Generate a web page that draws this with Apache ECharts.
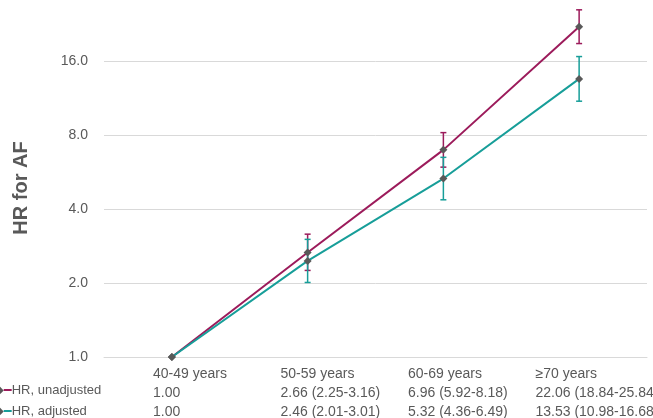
<!DOCTYPE html>
<html>
<head>
<meta charset="utf-8">
<script src="https://cdn.jsdelivr.net/npm/echarts@6/dist/echarts.min.js"></script>
<style>
  html, body { margin: 0; padding: 0; background: #ffffff; }
  #chart { width: 653px; height: 418px; }
</style>
</head>
<body>
<div id="chart"></div>
<script>
// ---- data ----
const categories = ['40-49 years', '50-59 years', '60-69 years', '\u226570 years'];
const hrUnadjusted = [1.00, 2.66, 6.96, 22.06];
const ciUnadjustedLow = [null, 2.25, 5.92, 18.84];
const ciUnadjustedHigh = [null, 3.16, 8.18, 25.84];
const hrAdjusted = [1.00, 2.46, 5.32, 13.53];
const ciAdjustedLow = [null, 2.01, 4.36, 10.98];
const ciAdjustedHigh = [null, 3.01, 6.49, 16.68];
const seriesNames = ['HR, unadjusted', 'HR, adjusted'];
const yAxisTitle = 'HR for AF';

// ---- styling ----
const FONT = "'Liberation Sans', Arial, sans-serif";
const TEXT = '#595959';
const MAROON = '#9c1b5b';
const TEAL = '#179e99';
const GRID = '#d9d9d9';
const MARKER = '#595959';

function cellText(hr, lo, hi) {
  return hr.map((v, i) => (lo[i] == null ? v.toFixed(2)
    : v.toFixed(2) + ' (' + lo[i].toFixed(2) + '-' + hi[i].toFixed(2) + ')'));
}
const rowUnadjusted = cellText(hrUnadjusted, ciUnadjustedLow, ciUnadjustedHigh);
const rowAdjusted = cellText(hrAdjusted, ciAdjustedLow, ciAdjustedHigh);

function errData(lo, hi) {
  const out = [];
  lo.forEach((l, i) => { if (l != null) out.push([i, l, hi[i]]); });
  return out;
}

function errRender(color) {
  return function (params, api) {
    const i = api.value(0);
    const p1 = api.coord([i, api.value(1)]);
    const p2 = api.coord([i, api.value(2)]);
    const w = 3;
    const st = { stroke: color, lineWidth: 1.5 };
    return {
      type: 'group',
      children: [
        { type: 'line', shape: { x1: p1[0], y1: p1[1], x2: p2[0], y2: p2[1] }, style: st },
        { type: 'line', shape: { x1: p1[0] - w, y1: p1[1], x2: p1[0] + w, y2: p1[1] }, style: st },
        { type: 'line', shape: { x1: p2[0] - w, y1: p2[1], x2: p2[0] + w, y2: p2[1] }, style: st }
      ]
    };
  };
}

const chart = echarts.init(document.getElementById('chart'), null, { renderer: 'canvas' });
chart.setOption({
  animation: false,
  backgroundColor: '#ffffff',
  textStyle: { fontFamily: FONT },
  grid: [
    { left: 104, right: 6, top: -13, bottom: 61, outerBoundsMode: 'none', containLabel: false },
    { left: 89.25, right: 53.75, top: 19, bottom: 61, outerBoundsMode: 'none', containLabel: false }
  ],
  legend: {
    data: seriesNames,
    orient: 'vertical',
    icon: 'none',
    left: -9,
    top: 383,
    height: 40,
    padding: 0,
    itemWidth: 0,
    itemHeight: 14,
    itemGap: 7,
    formatter: name => '{d|\u25C6}{b' + seriesNames.indexOf(name) + '|}' + name,
    textStyle: {
      color: TEXT, fontSize: 13, fontFamily: FONT, lineHeight: 14,
      rich: {
        d: { color: MARKER, fontSize: 10, fontFamily: "'DejaVu Sans'", verticalAlign: 'middle', lineHeight: 14 },
        b0: { width: 8, height: 2, backgroundColor: MAROON, verticalAlign: 'middle' },
        b1: { width: 8, height: 2, backgroundColor: TEAL, verticalAlign: 'middle' }
      }
    },
    selectedMode: false
  },
  xAxis: [
    {
      type: 'category',
      gridIndex: 0,
      data: categories,
      boundaryGap: true,
      axisLine: { show: true, lineStyle: { color: GRID, width: 1 } },
      axisTick: { show: false },
      axisLabel: { show: false }
    },
    {
      type: 'category',
      gridIndex: 1,
      data: categories,
      boundaryGap: true,
      axisLine: { show: false },
      axisTick: { show: false },
      axisLabel: {
        show: true,
        interval: 0,
        align: 'left',
        verticalAlign: 'top',
        margin: 8,
        lineHeight: 19,
        color: TEXT,
        fontSize: 14,
        fontFamily: FONT,
        formatter: (value, idx) => value + '\n' + rowUnadjusted[idx] + '\n' + rowAdjusted[idx]
      }
    }
  ],
  yAxis: [
    {
      type: 'log',
      gridIndex: 0,
      logBase: 2,
      min: 1,
      max: 32,
      axisLine: { show: false },
      axisTick: { show: false },
      splitLine: { show: true, lineStyle: { color: GRID, width: 1 } },
      axisLabel: {
        color: TEXT,
        fontSize: 14,
        fontFamily: FONT,
        margin: 16,
        formatter: v => Number(v).toFixed(1)
      }
    },
    {
      type: 'value',
      gridIndex: 1,
      axisLine: { show: false },
      axisTick: { show: false },
      axisLabel: { show: false },
      splitLine: { show: false },
      name: yAxisTitle,
      nameLocation: 'middle',
      nameGap: 58,
      nameTextStyle: { color: TEXT, fontSize: 20, fontWeight: 'bold', fontFamily: FONT }
    }
  ],
  series: [
    {
      name: seriesNames[0],
      type: 'line',
      color: MAROON,
      xAxisIndex: 0, yAxisIndex: 0,
      data: hrUnadjusted,
      symbol: 'diamond',
      symbolSize: 8,
      z: 3,
      lineStyle: { color: MAROON, width: 2 },
      itemStyle: { color: MARKER, borderWidth: 0 }
    },
    {
      name: seriesNames[1],
      type: 'line',
      color: TEAL,
      xAxisIndex: 0, yAxisIndex: 0,
      data: hrAdjusted,
      symbol: 'diamond',
      symbolSize: 8,
      z: 3,
      lineStyle: { color: TEAL, width: 2 },
      itemStyle: { color: MARKER, borderWidth: 0 }
    },
    {
      name: 'CI unadjusted',
      type: 'custom',
      xAxisIndex: 0, yAxisIndex: 0,
      z: 2,
      renderItem: errRender(MAROON),
      encode: { x: 0, y: [1, 2] },
      data: errData(ciUnadjustedLow, ciUnadjustedHigh)
    },
    {
      name: 'CI adjusted',
      type: 'custom',
      xAxisIndex: 0, yAxisIndex: 0,
      z: 2,
      renderItem: errRender(TEAL),
      encode: { x: 0, y: [1, 2] },
      data: errData(ciAdjustedLow, ciAdjustedHigh)
    }
  ]
});
</script>
</body>
</html>
